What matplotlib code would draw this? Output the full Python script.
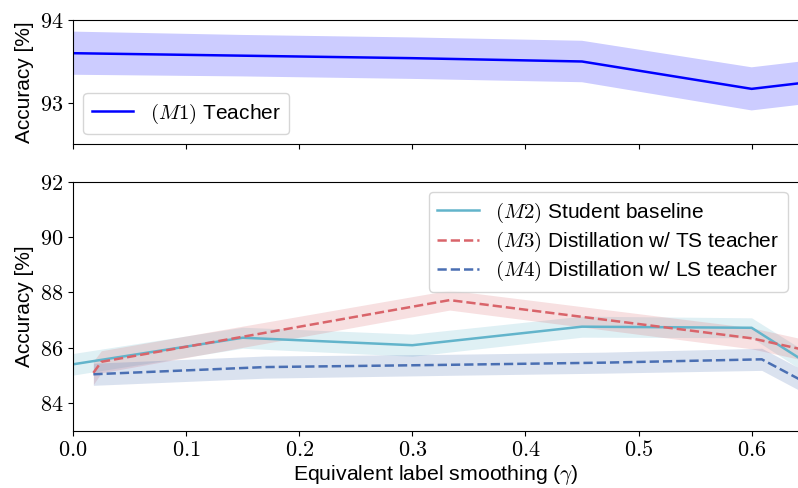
import numpy as np
import matplotlib
matplotlib.use("Agg")
import matplotlib.pyplot as plt

plt.rcParams['font.family'] = ['Liberation Sans', 'DejaVu Sans']
plt.rcParams['mathtext.fontset'] = 'cm'
plt.rcParams['font.size'] = 15

# Teacher (M1)
x_teacher = [0.0, 0.15, 0.3, 0.45, 0.6, 0.75]
acc_teacher = [93.60, 93.57, 93.54, 93.50, 93.17, 93.41]
std_teacher = [0.26, 0.25, 0.25, 0.25, 0.26, 0.26]

# Student baseline (M2)
x_student = [0.0, 0.15, 0.3, 0.45, 0.6, 0.65]
acc_student = [85.40, 86.36, 86.09, 86.76, 86.72, 85.42]
std_student = [0.39, 0.38, 0.40, 0.38, 0.36, 0.38]

# Distillation w/ TS teacher (M3)
x_ts = [0.018, 0.025, 0.333, 0.6, 0.65]
acc_ts = [85.09, 85.49, 87.72, 86.34, 85.89]
std_ts = [0.42, 0.40, 0.36, 0.38, 0.38]

# Distillation w/ LS teacher (M4)
x_ls = [0.018, 0.17, 0.33, 0.47, 0.609, 0.65]
acc_ls = [85.04, 85.30, 85.38, 85.46, 85.58, 84.69]
std_ls = [0.40, 0.40, 0.38, 0.38, 0.40, 0.40]

c_teacher = '#0000ff'
c_student = '#62b4cb'
c_ts = '#d9646a'
c_ls = '#4a6fb3'

fig = plt.figure(figsize=(7.98, 4.88), dpi=100)
ax1 = fig.add_axes([0.0915, 0.704, 0.9085, 0.255])
ax2 = fig.add_axes([0.0915, 0.1174, 0.9085, 0.5103])

def band(ax, x, y, s, color, ls, label, alpha):
    x = np.array(x)
    y = np.array(y)
    s = np.array(s)
    ax.fill_between(x, y - s, y + s, color=color, alpha=alpha, linewidth=0)
    ax.plot(x, y, color=color, linestyle=ls, linewidth=1.8, label=label)

band(ax1, x_teacher, acc_teacher, std_teacher, c_teacher, '-', r'$(M1)$ Teacher', 0.2)
band(ax2, x_student, acc_student, std_student, c_student, '-', r'$(M2)$ Student baseline', 0.2)
band(ax2, x_ts, acc_ts, std_ts, c_ts, '--', r'$(M3)$ Distillation w/ TS teacher', 0.2)
band(ax2, x_ls, acc_ls, std_ls, c_ls, '--', r'$(M4)$ Distillation w/ LS teacher', 0.2)

xticks = [0.0, 0.1, 0.2, 0.3, 0.4, 0.5, 0.6]
for ax in (ax1, ax2):
    ax.set_xlim(0, 0.641)
    ax.set_xticks(xticks)
    ax.spines['right'].set_visible(False)
    ax.set_ylabel('Accuracy [%]', fontsize=15)
    ax.tick_params(labelsize=16)

ax1.set_ylim(92.5, 94)
ax1.set_yticks([93, 94])
ax1.set_yticklabels([r'$93$', r'$94$'])
ax1.set_xticklabels([])

ax2.set_ylim(83, 92)
ax2.set_yticks([84, 86, 88, 90, 92])
ax2.set_yticklabels([r'$%d$' % v for v in [84, 86, 88, 90, 92]])
ax2.set_xticklabels([r'$%.1f$' % v for v in xticks])
ax2.set_xlabel(r'Equivalent label smoothing ($\gamma$)', fontsize=15.3, labelpad=1)

ax1.legend(loc='lower left', fontsize=15)
ax2.legend(loc='upper right', fontsize=15, labelspacing=0.25)

fig.savefig('out.png', dpi=100)
